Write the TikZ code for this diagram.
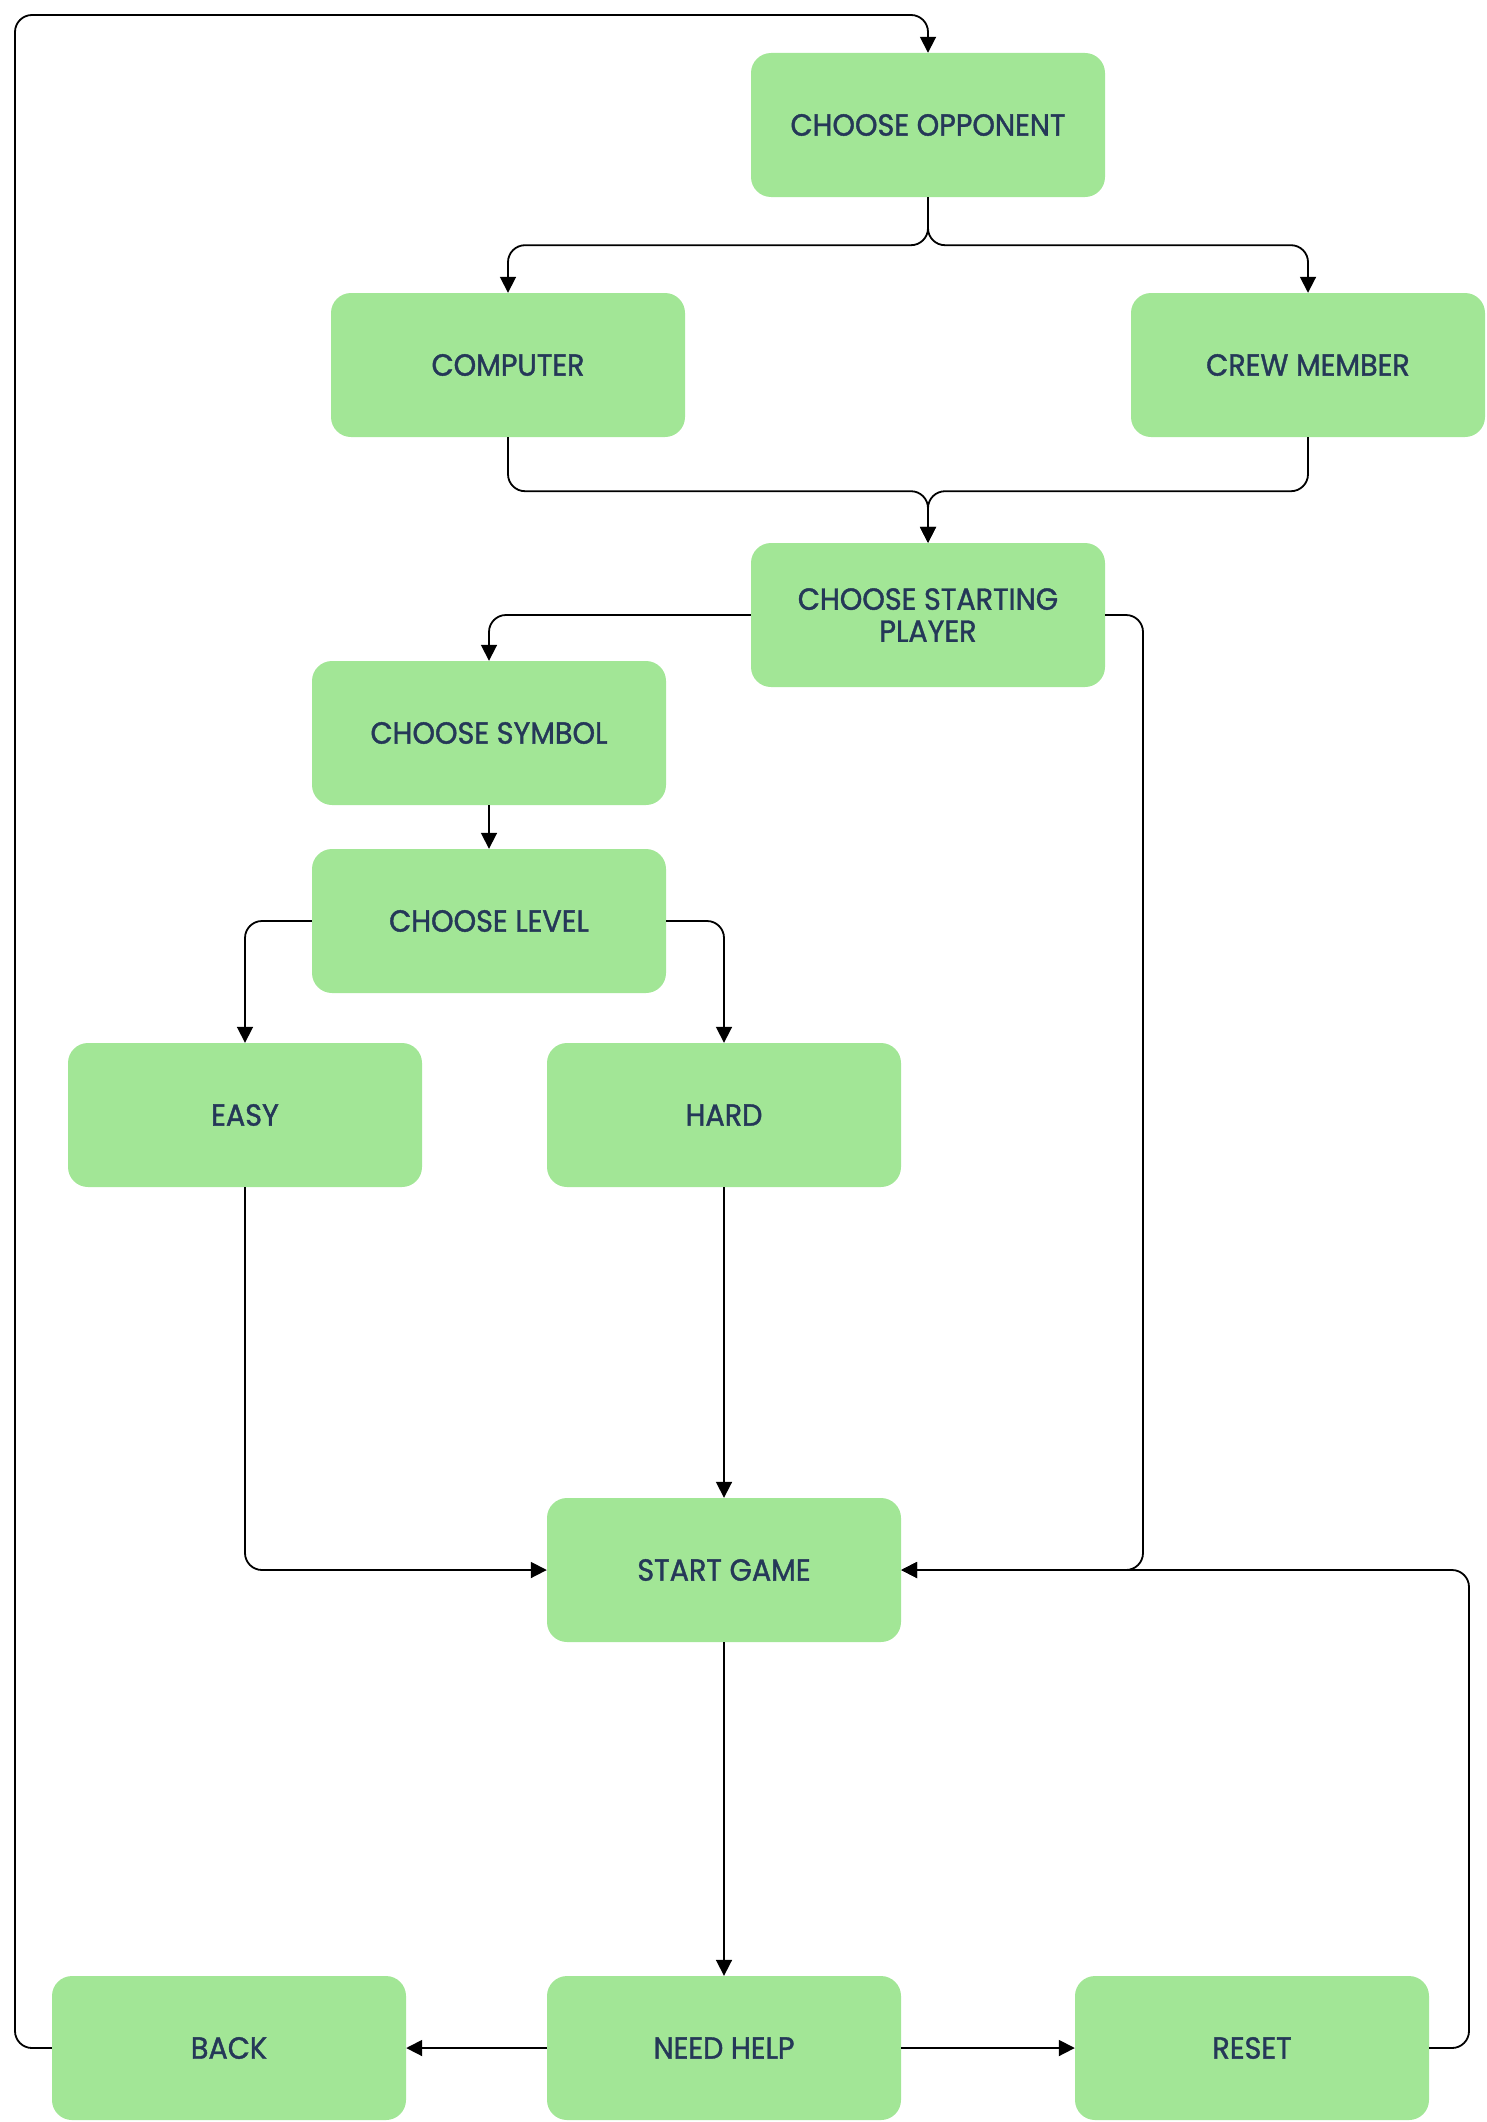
\documentclass[tikz,border=0pt]{standalone}
\usepackage{fontspec}
\setmainfont{Poppins}[FakeStretch=0.94,FakeBold=1.3]
\usetikzlibrary{arrows.meta}
\definecolor{boxgreen}{HTML}{A2E696}
\definecolor{boxtext}{HTML}{253858}
\tikzset{
  box/.style={draw=none, fill=boxgreen, rounded corners=20pt, minimum width=354pt, minimum height=144pt,
    inner sep=0pt, align=center, text=boxtext, font=\fontsize{30.5}{32}\selectfont},
  conn/.style={line width=1.8pt, rounded corners=17pt, -{Triangle[length=16pt,width=16pt]}},
  plain/.style={line width=1.8pt, rounded corners=17pt}
}
\begin{document}
\begin{tikzpicture}[x=1pt,y=-1pt]
\useasboundingbox (0,0) rectangle (1486,2122);
\node[box] (co) at (928,125) {CHOOSE OPPONENT};
\node[box] (comp) at (508,365) {COMPUTER};
\node[box] (crew) at (1308,365) {CREW MEMBER};
\node[box] (csp) at (928,615) {CHOOSE STARTING\\PLAYER};
\node[box] (cs) at (489,733) {CHOOSE SYMBOL};
\node[box] (cl) at (489,921) {CHOOSE LEVEL};
\node[box] (easy) at (245,1115) {EASY};
\node[box] (hard) at (724,1115) {HARD};
\node[box] (sg) at (724,1570) {START GAME};
\node[box] (back) at (229,2048) {BACK};
\node[box] (nh) at (724,2048) {NEED HELP};
\node[box] (reset) at (1252,2048) {RESET};

\coordinate (tl) at (15,15);
\coordinate (rr) at (1469,1570);
\coordinate (vr) at (1143,1570);

\draw[conn] (co.south) -- ++(0,48) -| (comp.north);
\draw[conn] (co.south) -- ++(0,48) -| (crew.north);
\draw[conn] (comp.south) -- ++(0,54) -| (csp.north);
\draw[conn] (crew.south) -- ++(0,54) -| (csp.north);
\draw[conn] (csp.west) -| (cs.north);
\draw[conn] (csp.east) -| (vr) -- (sg.east);
\draw[conn] (cs.south) -- (cl.north);
\draw[conn] (cl.west) -| (easy.north);
\draw[conn] (cl.east) -| (hard.north);
\draw[conn] (easy.south) |- (sg.west);
\draw[conn] (hard.south) -- (sg.north);
\draw[conn] (sg.south) -- (nh.north);
\draw[conn] (nh.west) -- (back.east);
\draw[conn] (nh.east) -- (reset.west);
\draw[conn] (reset.east) -| (rr) -- (sg.east);
\draw[conn] (back.west) -| (tl) -| (co.north);
\end{tikzpicture}
\end{document}
